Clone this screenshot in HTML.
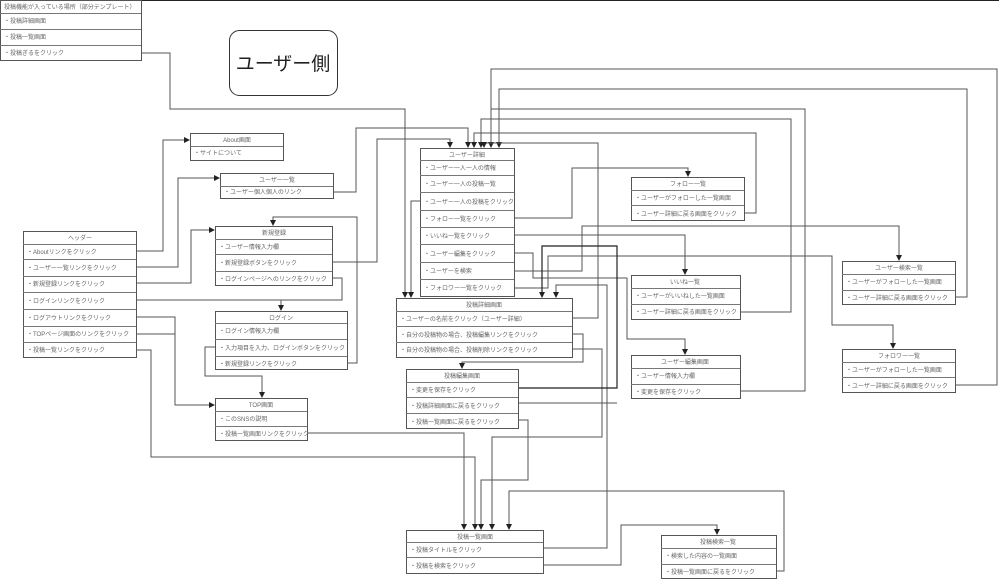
<!DOCTYPE html>
<html><head><meta charset="utf-8"><style>
html,body{margin:0;padding:0;background:#fff}
svg{display:block}
text{font-family:"Liberation Sans","Noto Sans CJK JP",sans-serif;font-size:6px;fill:#666}
.t{text-anchor:middle}
.b rect{fill:#fff;stroke:#555;stroke-width:1}
.b line{stroke:#777;stroke-width:1}
.c{fill:none;stroke:#555;stroke-width:1}
.k{fill:none;stroke:#222;stroke-width:1.2}
</style></head><body>
<svg width="999" height="581" viewBox="0 0 999 581" xmlns="http://www.w3.org/2000/svg">
<defs><marker id="a" markerWidth="6" markerHeight="6" refX="5" refY="3" orient="auto" markerUnits="userSpaceOnUse"><path d="M0,0 L6,3 L0,6 z" fill="#222"/></marker></defs>
<line x1="0" y1="0.5" x2="999" y2="0.5" stroke="#222" stroke-width="1"/>

<!-- connectors -->
<g class="c" marker-end="url(#a)">
<polyline points="141,53 170,53 170,109 405,109 405,297"/>
<polyline points="136,251 163,251 163,140 189,140"/>
<polyline points="136,267 178,267 178,178 219,178"/>
<polyline points="136,283 191,283 191,230 214,230"/>
<polyline points="281,300 281,310"/>
<polyline points="136,317 175,317 175,405 214,405"/>
<polyline points="215,347 205,347 205,376 262,376 262,397"/>
<polyline points="347,363 357,363 357,217 273,217 273,225"/>
<polyline points="332,262 377,262 377,139 450,139 450,147"/>
<polyline points="333,192 356,192 356,128 468,128 468,147"/>
<polyline points="955,385 997,385 997,69 491,69 491,147"/>
<polyline points="955,297 967,297 967,89 499,89 499,147"/>
<polyline points="740,312 791,312 791,119 481,119 481,147"/>
<polyline points="744,213 756,213 756,133 474,133 474,147"/>
<polyline points="572,318 598,318 598,143 484,143 484,147"/>
<polyline points="514,218 572,218 572,168 688,168 688,176"/>
<polyline points="514,235 685,235 685,274"/>
<polyline points="514,253 533,253 533,278 627,278 627,339 685,339 685,354"/>
<polyline points="514,271 582,271 582,226 899,226 899,260"/>
<polyline points="514,288 548,288 548,256 832,256 832,325 893,325 893,348"/>
<polyline points="420,201 411,201 411,297"/>
<polyline points="543,548 607,548 607,285 556,285 556,297"/>
<polyline points="572,334 583,334 583,362 462,362 462,368"/>
<polyline points="572,349 602,349 602,437 492,437 492,529"/>
<polyline points="518,420 528,420 528,480 481,480 481,529"/>
<polyline points="307,433 464,433 464,529"/>
<polyline points="136,350 151,350 151,457 475,457 475,529"/>
<polyline points="776,571 784,571 784,491 509,491 509,529"/>
<polyline points="543,565 621,565 621,525 717,525 717,534"/>
</g>
<g class="c">
<polyline points="332,278 342,278 342,300 136,300"/>
<polyline points="136,334 175,334"/>
<polyline points="740,391 805,391 805,109 491,109"/>
<polyline points="518,403 617,403"/>
</g>
<polyline class="k" marker-end="url(#a)" points="518,388 617,388 617,246 542,246 542,297"/>

<!-- user side label -->
<rect x="229.5" y="30.5" width="108" height="65" rx="10" fill="#fff" stroke="#333"/>
<text x="283" y="70" text-anchor="middle" style="font-size:19px;fill:#222">ユーザー側</text>

<!-- boxes -->
<g class="b">
<rect x="0.5" y="0.5" width="141" height="60"/><line x1="0" y1="13.5" x2="141" y2="13.5"/><line x1="0" y1="29.5" x2="141" y2="29.5"/><line x1="0" y1="45.5" x2="141" y2="45.5"/>
<text x="4" y="9">投稿機能が入っている場所（部分テンプレート）</text><text x="4" y="23">・投稿詳細画面</text><text x="4" y="39">・投稿一覧画面</text><text x="4" y="55">・投稿ぎるをクリック</text>

<rect x="190.5" y="133.5" width="93" height="27"/><line x1="190" y1="146.5" x2="283" y2="146.5"/>
<text class="t" x="237" y="142">About画面</text><text x="194" y="155">・サイトについて</text>

<rect x="220.5" y="173.5" width="113" height="25"/><line x1="220" y1="186.5" x2="333" y2="186.5"/>
<text class="t" x="277" y="182">ユーザー一覧</text><text x="224" y="194">・ユーザー個人個人のリンク</text>

<rect x="23.5" y="231.5" width="113" height="126"/>
<line x1="23" y1="244.5" x2="136" y2="244.5"/><line x1="23" y1="259.5" x2="136" y2="259.5"/><line x1="23" y1="276.5" x2="136" y2="276.5"/><line x1="23" y1="292.5" x2="136" y2="292.5"/><line x1="23" y1="309.5" x2="136" y2="309.5"/><line x1="23" y1="326.5" x2="136" y2="326.5"/><line x1="23" y1="342.5" x2="136" y2="342.5"/>
<text class="t" x="80" y="240">ヘッダー</text><text x="27" y="254">・Aboutリンクをクリック</text><text x="27" y="270">・ユーザー一覧リンクをクリック</text><text x="27" y="286">・新規登録リンクをクリック</text><text x="27" y="303">・ログインリンクをクリック</text><text x="27" y="320">・ログアウトリンクをクリック</text><text x="27" y="336">・TOPページ画面のリンクをクリック</text><text x="27" y="352">・投稿一覧リンクをクリック</text>

<rect x="215.5" y="226.5" width="117" height="59"/><line x1="215" y1="239.5" x2="332" y2="239.5"/><line x1="215" y1="254.5" x2="332" y2="254.5"/><line x1="215" y1="271.5" x2="332" y2="271.5"/>
<text class="t" x="274" y="235">新規登録</text><text x="219" y="249">・ユーザー情報入力欄</text><text x="219" y="265">・新規登録ボタンをクリック</text><text x="219" y="281">・ログインページへのリンクをクリック</text>

<rect x="215.5" y="311.5" width="132" height="58"/><line x1="215" y1="323.5" x2="347" y2="323.5"/><line x1="215" y1="339.5" x2="347" y2="339.5"/><line x1="215" y1="356.5" x2="347" y2="356.5"/>
<text class="t" x="281" y="320">ログイン</text><text x="219" y="333">・ログイン情報入力欄</text><text x="219" y="350">・入力項目を入力、ログインボタンをクリック</text><text x="219" y="366">・新規登録リンクをクリック</text>

<rect x="215.5" y="398.5" width="92" height="42"/><line x1="215" y1="411.5" x2="307" y2="411.5"/><line x1="215" y1="426.5" x2="307" y2="426.5"/>
<text class="t" x="261" y="407">TOP画面</text><text x="219" y="421">・このSNSの説明</text><text x="219" y="436">・投稿一覧画面リンクをクリック</text>

<rect x="420.5" y="148.5" width="94" height="148"/>
<line x1="420" y1="160.5" x2="514" y2="160.5"/><line x1="420" y1="175.5" x2="514" y2="175.5"/><line x1="420" y1="192.5" x2="514" y2="192.5"/><line x1="420" y1="210.5" x2="514" y2="210.5"/><line x1="420" y1="227.5" x2="514" y2="227.5"/><line x1="420" y1="244.5" x2="514" y2="244.5"/><line x1="420" y1="262.5" x2="514" y2="262.5"/><line x1="420" y1="279.5" x2="514" y2="279.5"/>
<text class="t" x="467" y="157">ユーザー詳細</text><text x="424" y="170">・ユーザー一人一人の情報</text><text x="424" y="186">・ユーザー一人の投稿一覧</text><text x="424" y="204">・ユーザー一人の投稿をクリック</text><text x="424" y="221">・フォロー一覧をクリック</text><text x="424" y="238">・いいね一覧をクリック</text><text x="424" y="256">・ユーザー編集をクリック</text><text x="424" y="273">・ユーザーを検索</text><text x="424" y="290">・フォロワー一覧をクリック</text>

<rect x="396.5" y="298.5" width="176" height="59"/><line x1="396" y1="311.5" x2="572" y2="311.5"/><line x1="396" y1="326.5" x2="572" y2="326.5"/><line x1="396" y1="342.5" x2="572" y2="342.5"/>
<text class="t" x="484" y="307">投稿詳細画面</text><text x="400" y="321">・ユーザーの名前をクリック（ユーザー詳細）</text><text x="400" y="337">・自分の投稿物の場合、投稿編集リンクをクリック</text><text x="400" y="352">・自分の投稿物の場合、投稿削除リンクをクリック</text>

<rect x="406.5" y="369.5" width="112" height="59"/><line x1="406" y1="382.5" x2="518" y2="382.5"/><line x1="406" y1="397.5" x2="518" y2="397.5"/><line x1="406" y1="413.5" x2="518" y2="413.5"/>
<text class="t" x="462" y="378">投稿編集画面</text><text x="410" y="392">・変更を保存をクリック</text><text x="410" y="408">・投稿詳細画面に戻るをクリック</text><text x="410" y="424">・投稿一覧画面に戻るをクリック</text>

<rect x="631.5" y="177.5" width="113" height="43"/><line x1="631" y1="190.5" x2="744" y2="190.5"/><line x1="631" y1="205.5" x2="744" y2="205.5"/>
<text class="t" x="688" y="186">フォロー一覧</text><text x="635" y="200">・ユーザーがフォローした一覧画面</text><text x="635" y="216">・ユーザー詳細に戻る画面をクリック</text>

<rect x="631.5" y="275.5" width="109" height="44"/><line x1="631" y1="288.5" x2="740" y2="288.5"/><line x1="631" y1="304.5" x2="740" y2="304.5"/>
<text class="t" x="685" y="284">いいね一覧</text><text x="635" y="298">・ユーザーがいいねした一覧画面</text><text x="635" y="314">・ユーザー詳細に戻る画面をクリック</text>

<rect x="631.5" y="355.5" width="109" height="43"/><line x1="631" y1="368.5" x2="740" y2="368.5"/><line x1="631" y1="384.5" x2="740" y2="384.5"/>
<text class="t" x="685" y="364">ユーザー編集画面</text><text x="635" y="378">・ユーザー情報入力欄</text><text x="635" y="394">・変更を保存をクリック</text>

<rect x="842.5" y="261.5" width="113" height="43"/><line x1="842" y1="274.5" x2="955" y2="274.5"/><line x1="842" y1="290.5" x2="955" y2="290.5"/>
<text class="t" x="899" y="270">ユーザー検索一覧</text><text x="846" y="284">・ユーザーがフォローした一覧画面</text><text x="846" y="300">・ユーザー詳細に戻る画面をクリック</text>

<rect x="842.5" y="349.5" width="113" height="43"/><line x1="842" y1="362.5" x2="955" y2="362.5"/><line x1="842" y1="377.5" x2="955" y2="377.5"/>
<text class="t" x="899" y="358">フォロワー一覧</text><text x="846" y="372">・ユーザーがフォローした一覧画面</text><text x="846" y="388">・ユーザー詳細に戻る画面をクリック</text>

<rect x="406.5" y="530.5" width="137" height="43"/><line x1="406" y1="542.5" x2="543" y2="542.5"/><line x1="406" y1="557.5" x2="543" y2="557.5"/>
<text class="t" x="475" y="539">投稿一覧画面</text><text x="410" y="552">・投稿タイトルをクリック</text><text x="410" y="568">・投稿を検索をクリック</text>

<rect x="661.5" y="535.5" width="115" height="43"/><line x1="661" y1="548.5" x2="776" y2="548.5"/><line x1="661" y1="564.5" x2="776" y2="564.5"/>
<text class="t" x="718" y="544">投稿検索一覧</text><text x="665" y="558">・検索した内容の一覧画面</text><text x="665" y="574">・投稿一覧画面に戻るをクリック</text>
</g>
</svg>
</body></html>
